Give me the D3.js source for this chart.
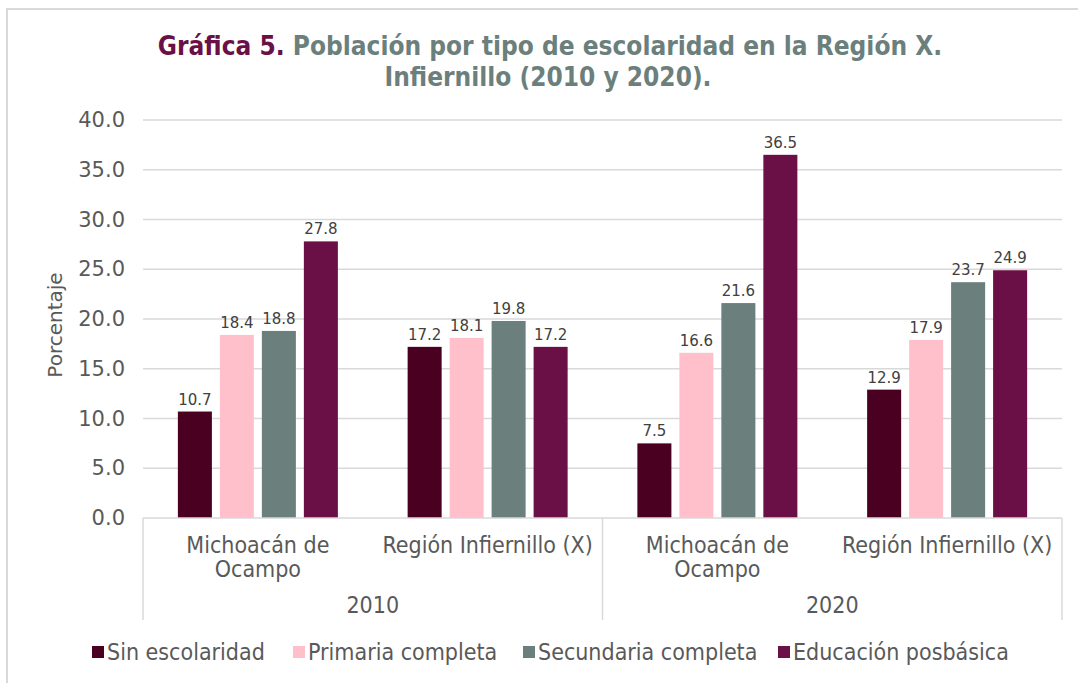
<!DOCTYPE html>
<html>
<head>
<meta charset="utf-8">
<script src="https://cdn.jsdelivr.net/npm/d3@7"></script>
<style>
  html, body { margin: 0; padding: 0; background: #fff; }
  svg { display: block; }
</style>
</head>
<body>
<div id="chart"></div>
<script>
// Datos
const groups = [
  { key: '2010-MO', year: '2010', label: ['Michoacán de', 'Ocampo'] },
  { key: '2010-RI', year: '2010', label: ['Región Infiernillo (X)'] },
  { key: '2020-MO', year: '2020', label: ['Michoacán de', 'Ocampo'] },
  { key: '2020-RI', year: '2020', label: ['Región Infiernillo (X)'] }
];
const years = ['2010', '2020'];
const seriesNames = ['Sin escolaridad', 'Primaria completa', 'Secundaria completa', 'Educación posbásica'];
const seriesColors = ['#4a0020', '#ffc0cb', '#6b7f7c', '#6b0f47'];
const sinEscolaridad = [10.7, 17.2, 7.5, 12.9];
const primaria = [18.4, 18.1, 16.6, 17.9];
const secundaria = [18.8, 19.8, 21.6, 23.7];
const posbasica = [27.8, 17.2, 36.5, 24.9];
const yTicks = [0, 5, 10, 15, 20, 25, 30, 35, 40];

const seriesValues = [sinEscolaridad, primaria, secundaria, posbasica];

const W = 1078, H = 683;
const plotL = 143, plotR = 1062, plotT = 120, plotB = 518;
const condensed = '"DejaVu Sans Condensed", "Liberation Sans Narrow", sans-serif';
const numFont = '"DejaVu Sans", "Open Sans", sans-serif';

const svg = d3.select('#chart').append('svg')
  .attr('width', W).attr('height', H);

// marco
svg.append('rect')
  .attr('x', 7).attr('y', 9).attr('width', W + 20).attr('height', H + 20)
  .attr('fill', 'none').attr('stroke', '#d9d9d9').attr('stroke-width', 2);

// título
const title = svg.append('text')
  .attr('x', 550).attr('y', 55)
  .attr('text-anchor', 'middle')
  .attr('font-family', condensed)
  .attr('font-size', 26).attr('font-weight', 'bold');
title.append('tspan').attr('fill', '#6b0f47').text('Gráfica 5. ');
title.append('tspan').attr('fill', '#6b7f7c').text('Población por tipo de escolaridad en la Región X.');
svg.append('text')
  .attr('x', 548).attr('y', 86)
  .attr('text-anchor', 'middle')
  .attr('font-family', condensed)
  .attr('font-size', 26).attr('font-weight', 'bold')
  .attr('fill', '#6b7f7c')
  .text('Infiernillo (2010 y 2020).');

// escalas
const y = d3.scaleLinear().domain([0, 40]).range([plotB, plotT]);
const x0 = d3.scaleBand().domain(groups.map((g) => g.key)).range([plotL, plotR]).padding(0);
const barSpan = 160;
const x1 = d3.scaleBand().domain(seriesNames)
  .range([(x0.bandwidth() - barSpan) / 2, (x0.bandwidth() + barSpan) / 2])
  .paddingInner(0.19).paddingOuter(0);
const color = d3.scaleOrdinal().domain(seriesNames).range(seriesColors);

// rejilla
svg.append('g')
  .selectAll('line')
  .data(yTicks.filter((t) => t > 0))
  .join('line')
  .attr('x1', plotL).attr('x2', plotR)
  .attr('y1', (d) => y(d)).attr('y2', (d) => y(d))
  .attr('stroke', '#d9d9d9').attr('stroke-width', 1.5);

// eje y
const yAxis = svg.append('g')
  .attr('transform', `translate(${plotL - 15},0)`)
  .call(d3.axisLeft(y).tickValues(yTicks).tickFormat(d3.format('.1f')).tickSize(0));
yAxis.select('.domain').remove();
yAxis.selectAll('text')
  .attr('font-family', numFont).attr('font-size', 21).attr('fill', '#595959');

svg.append('text')
  .attr('transform', 'translate(62,325) rotate(-90)')
  .attr('text-anchor', 'middle')
  .attr('font-family', numFont).attr('font-size', 20).attr('fill', '#595959')
  .text('Porcentaje');

// barras
const rows = groups.map((g, i) => ({
  key: g.key,
  values: seriesNames.map((s, j) => ({ series: s, value: seriesValues[j][i] }))
}));

const gGroups = svg.append('g').selectAll('g')
  .data(rows)
  .join('g')
  .attr('transform', (d) => `translate(${x0(d.key)},0)`);

gGroups.selectAll('rect')
  .data((d) => d.values)
  .join('rect')
  .attr('x', (d) => x1(d.series))
  .attr('width', x1.bandwidth())
  .attr('y', (d) => y(d.value))
  .attr('height', (d) => y(0) - y(d.value))
  .attr('fill', (d) => color(d.series));

gGroups.selectAll('text.val')
  .data((d) => d.values)
  .join('text')
  .attr('class', 'val')
  .attr('x', (d) => x1(d.series) + x1.bandwidth() / 2)
  .attr('y', (d) => y(d.value) - 7)
  .attr('text-anchor', 'middle')
  .attr('font-family', numFont).attr('font-size', 15).attr('fill', '#404040')
  .text((d) => d3.format('.1f')(d.value));

// eje x
svg.append('line')
  .attr('x1', plotL).attr('x2', plotR).attr('y1', plotB).attr('y2', plotB)
  .attr('stroke', '#d9d9d9').attr('stroke-width', 1.5);

const sepX = [plotL, x0(groups[2].key), plotR];
svg.append('g').selectAll('line')
  .data(sepX)
  .join('line')
  .attr('x1', (d) => d).attr('x2', (d) => d)
  .attr('y1', plotB).attr('y2', 620)
  .attr('stroke', '#d9d9d9').attr('stroke-width', 1.5);

svg.append('g').selectAll('text')
  .data(groups)
  .join('text')
  .attr('x', (d) => x0(d.key) + x0.bandwidth() / 2)
  .attr('y', 553)
  .attr('text-anchor', 'middle')
  .attr('font-family', condensed).attr('font-size', 23).attr('fill', '#595959')
  .each(function (d) {
    const t = d3.select(this);
    d.label.forEach((line, i) => {
      t.append('tspan')
        .attr('x', x0(d.key) + x0.bandwidth() / 2)
        .attr('dy', i === 0 ? 0 : 24)
        .text(line);
    });
  });

svg.append('g').selectAll('text')
  .data(years)
  .join('text')
  .attr('x', (d) => {
    const ks = groups.filter((g) => g.year === d).map((g) => g.key);
    return (x0(ks[0]) + x0(ks[ks.length - 1]) + x0.bandwidth()) / 2;
  })
  .attr('y', 613)
  .attr('text-anchor', 'middle')
  .attr('font-family', condensed).attr('font-size', 23).attr('fill', '#595959')
  .text((d) => d);

// leyenda
const legendX = [92, 293, 523, 778];
const legend = svg.append('g').selectAll('g')
  .data(seriesNames)
  .join('g')
  .attr('transform', (d, i) => `translate(${legendX[i]},646)`);
legend.append('rect')
  .attr('width', 12).attr('height', 12)
  .attr('fill', (d) => color(d));
legend.append('text')
  .attr('x', 15).attr('y', 14)
  .attr('font-family', condensed).attr('font-size', 23).attr('fill', '#595959')
  .text((d) => d);
</script>
</body>
</html>
